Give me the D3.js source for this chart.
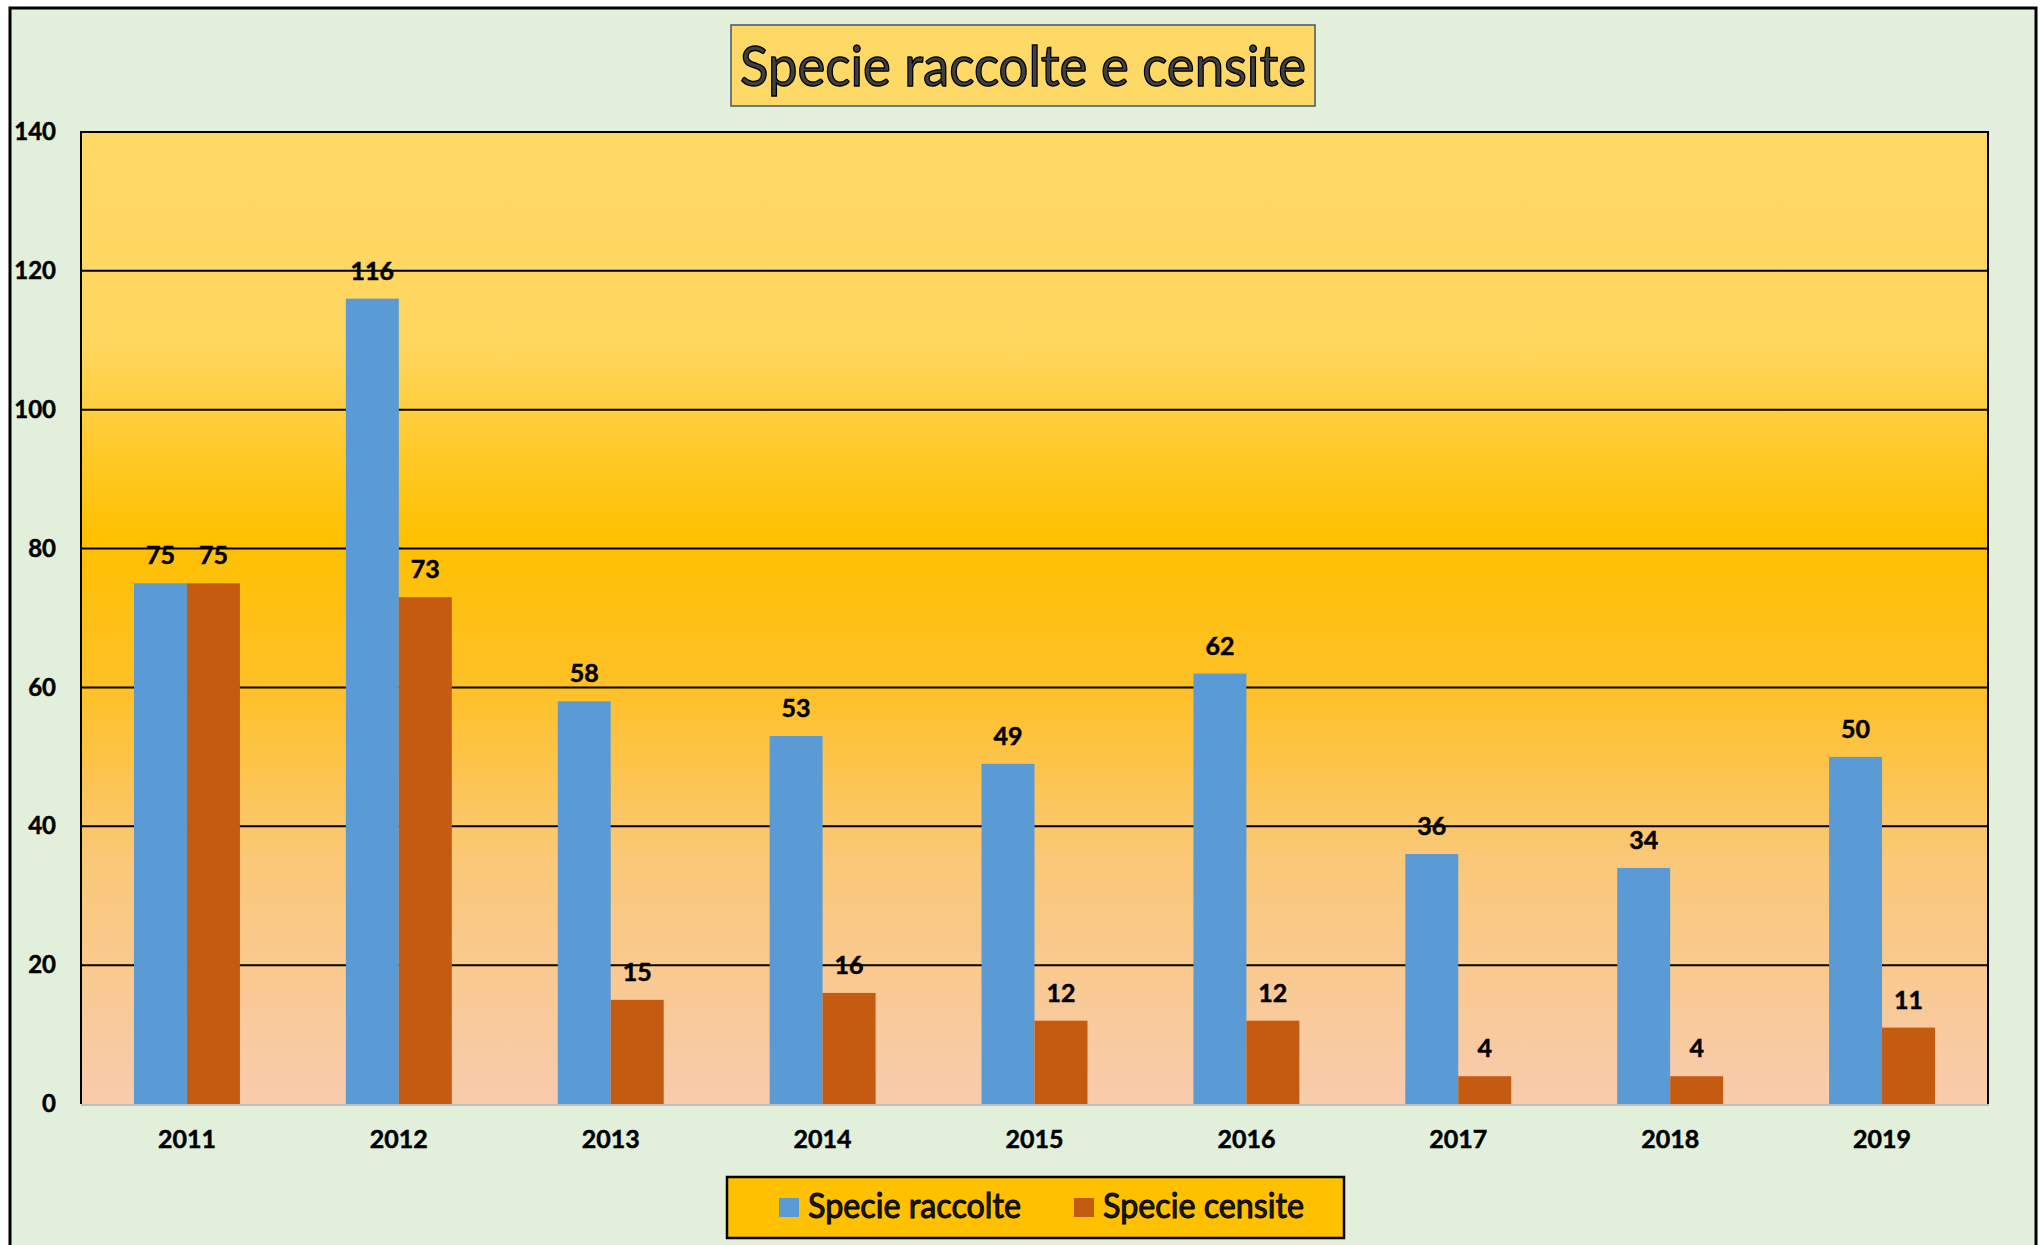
<!DOCTYPE html>
<html><head><meta charset="utf-8">
<script src="https://cdn.jsdelivr.net/npm/d3@7"></script>
<style>body{margin:0;background:#fff}svg{display:block}</style>
</head><body>
<script>
const years = ["2011","2012","2013","2014","2015","2016","2017","2018","2019"];
const raccolte = [75,116,58,53,49,62,36,34,50];
const censite = [75,73,15,16,12,12,4,4,11];
const seriesNames = ["Specie raccolte","Specie censite"];
const seriesColors = ["#5B9BD5","#C55A11"];
const yTicks = [0,20,40,60,80,100,120,140];
const title = "Specie raccolte e censite";

const W=2043,H=1245;
const L=81,R=1988,T=132,B=1104;
const font="Lato, 'Open Sans', sans-serif";
const svg=d3.select("body").append("svg").attr("width",W).attr("height",H);
const defs=svg.append("defs");
const g=defs.append("linearGradient").attr("id","pg").attr("x1",0).attr("y1",0).attr("x2",0).attr("y2",1);
[[0,"#FFD966"],[0.22,"#FFD65E"],[0.42,"#FFC000"],[0.58,"#FEC12A"],[0.75,"#FAC878"],[1,"#F8CBAD"]]
 .forEach(([o,c])=>g.append("stop").attr("offset",o).attr("stop-color",c));

svg.append("rect").attr("x",10).attr("y",8).attr("width",2026).attr("height",1260)
  .attr("fill","#E2EFDA").attr("stroke","#000").attr("stroke-width",3);

const y=d3.scaleLinear().domain([0,140]).range([B,T]);
const x=d3.scaleBand().domain(years).range([L,R]).padding(0);
const bw=x.bandwidth();
const xs=d3.scaleBand().domain([0,1]).range([bw*0.25,bw*0.75]).padding(0);

svg.append("rect").attr("x",L).attr("y",T).attr("width",R-L).attr("height",B-T).attr("fill","url(#pg)");

// gridlines
svg.append("g").selectAll("line").data(yTicks.filter(d=>d>0)).join("line")
  .attr("x1",L).attr("x2",R).attr("y1",d=>y(d)).attr("y2",d=>y(d))
  .attr("stroke","#000").attr("stroke-width",2);
// plot border left/right
svg.append("line").attr("x1",L).attr("x2",L).attr("y1",T-1).attr("y2",B).attr("stroke","#000").attr("stroke-width",2);
svg.append("line").attr("x1",R).attr("x2",R).attr("y1",T-1).attr("y2",B).attr("stroke","#000").attr("stroke-width",2);

const data=years.map((yr,i)=>({yr,vals:[raccolte[i],censite[i]]}));
const grp=svg.append("g").selectAll("g").data(data).join("g").attr("transform",d=>`translate(${x(d.yr)},0)`);
grp.selectAll("rect").data(d=>d.vals).join("rect")
  .attr("x",(v,i)=>xs(i)).attr("width",xs.bandwidth())
  .attr("y",v=>y(v)).attr("height",v=>B-y(v))
  .attr("fill",(v,i)=>seriesColors[i]);
grp.selectAll("text").data(d=>d.vals).join("text")
  .attr("x",(v,i)=>xs(i)+xs.bandwidth()/2).attr("y",v=>y(v)-19)
  .attr("text-anchor","middle").attr("font-family",font).attr("font-weight",700)
  .attr("font-size",25).attr("fill","#000").attr("stroke","#000").attr("stroke-width",0.5).text(v=>v);

// x axis line
svg.append("line").attr("x1",L).attr("x2",R+1).attr("y1",B+1).attr("y2",B+1).attr("stroke","#BFBFBF").attr("stroke-width",2);

// y axis labels
const ya=svg.append("g").attr("transform",`translate(${L},0)`)
  .call(d3.axisLeft(y).tickValues(yTicks).tickSize(0).tickPadding(25));
ya.select(".domain").remove();
ya.selectAll("text").attr("font-family",font).attr("font-weight",700).attr("font-size",24)
  .attr("fill","#000").attr("stroke","#000").attr("stroke-width",0.5);

// x axis labels
const xa=svg.append("g").attr("transform",`translate(0,${B})`)
  .call(d3.axisBottom(x).tickSize(0).tickPadding(26));
xa.select(".domain").remove();
xa.selectAll("text").attr("font-family",font).attr("font-weight",700).attr("font-size",25)
  .attr("fill","#000").attr("stroke","#000").attr("stroke-width",0.5);

// title
svg.append("rect").attr("x",731).attr("y",25).attr("width",584).attr("height",81)
  .attr("fill","#FFD966").attr("stroke","#44546A").attr("stroke-width",1.5);
svg.append("text").attr("x",740).attr("y",86).attr("font-family",font).attr("font-size",57)
  .attr("fill","#404040").attr("stroke","#000").attr("stroke-width",1.4)
  .attr("textLength",566).attr("lengthAdjust","spacingAndGlyphs").text(title);

// legend
svg.append("rect").attr("x",727).attr("y",1177).attr("width",617).attr("height",61)
  .attr("fill","#FFC000").attr("stroke","#000").attr("stroke-width",2.5);
const lx=[779,1074], tx=[808,1103], tw=[213,201];
seriesNames.forEach((n,i)=>{
  svg.append("rect").attr("x",lx[i]).attr("y",1198).attr("width",20).attr("height",19).attr("fill",seriesColors[i]);
  svg.append("text").attr("x",tx[i]).attr("y",1218).attr("font-family",font).attr("font-size",34)
    .attr("fill","#1a1a1a").attr("stroke","#000").attr("stroke-width",1)
    .attr("textLength",tw[i]).attr("lengthAdjust","spacingAndGlyphs").text(n);
});
</script>
</body></html>
